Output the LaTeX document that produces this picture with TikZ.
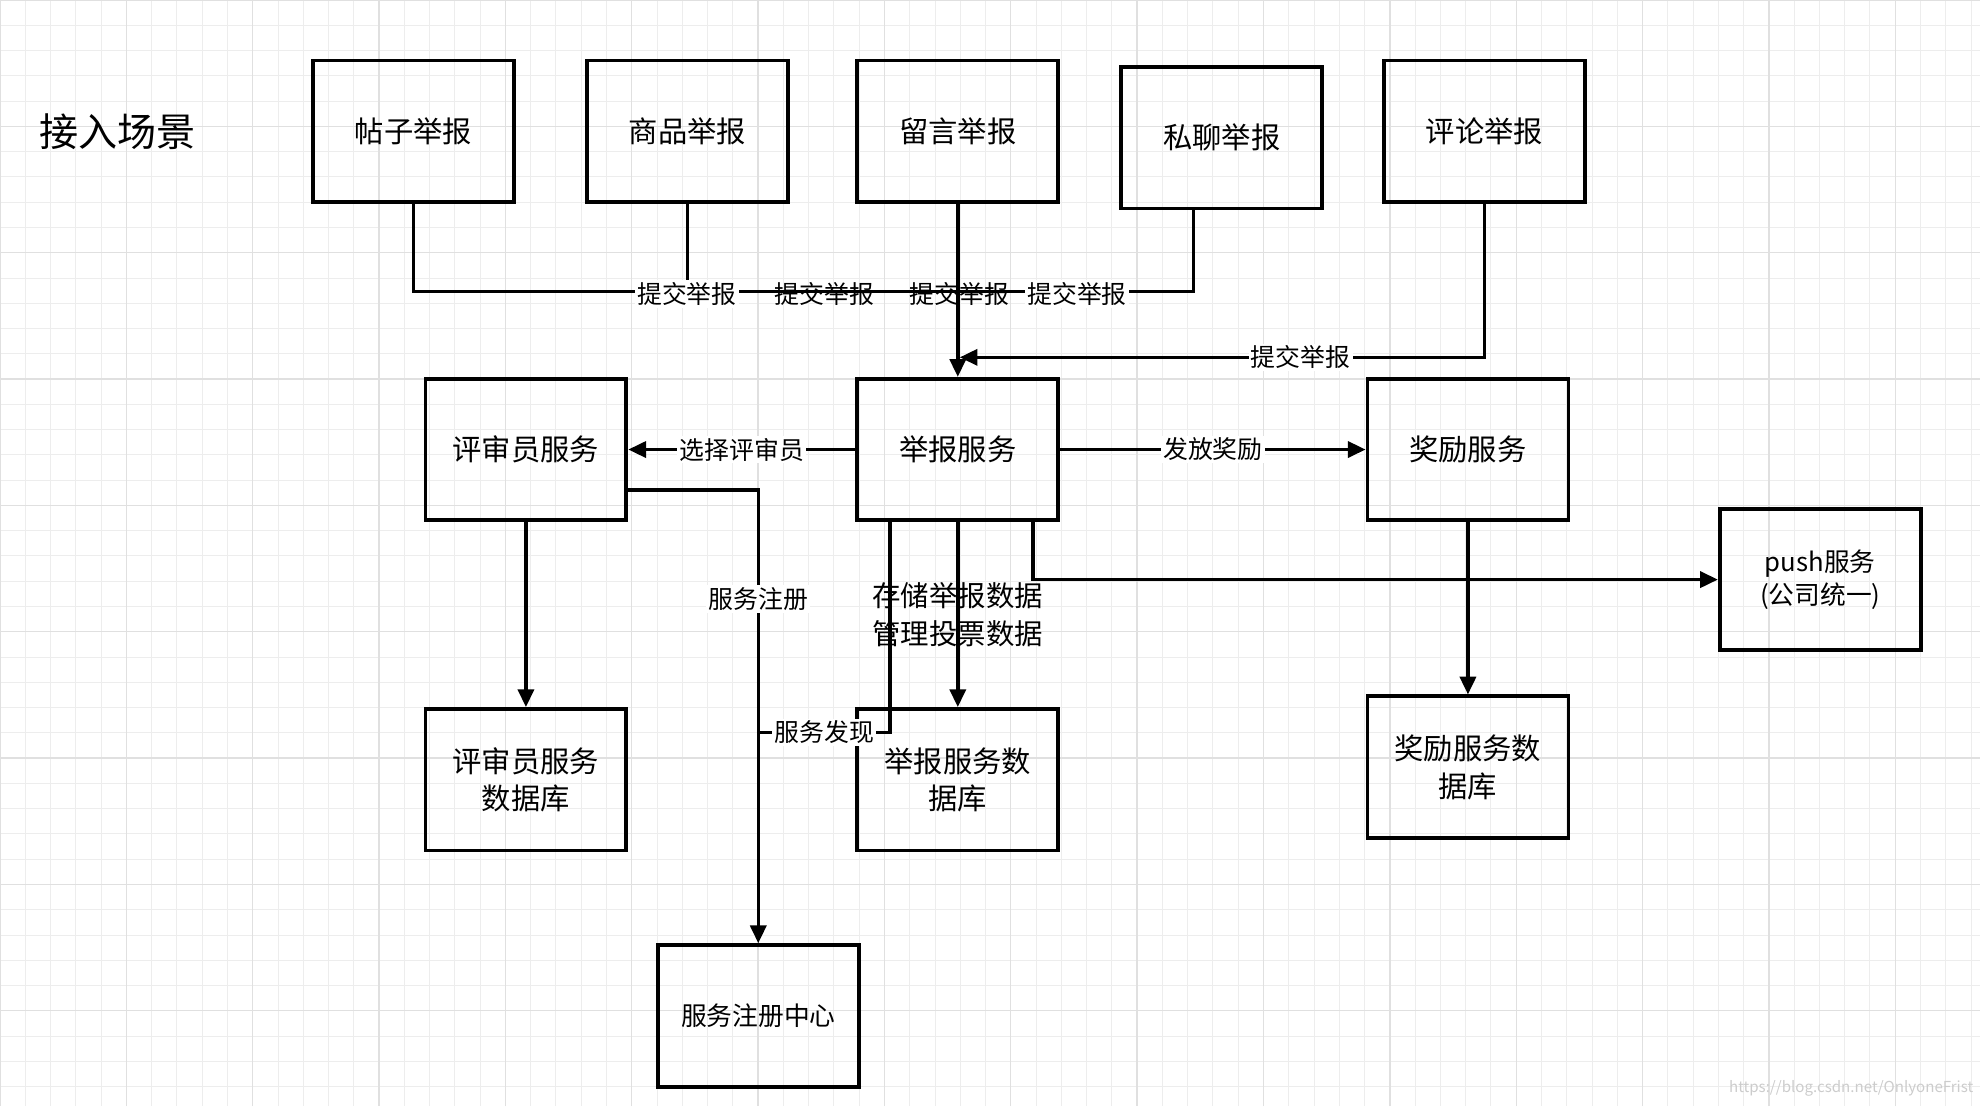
\documentclass[tikz,border=0pt]{standalone}
\usepackage{fontspec}
\setmainfont{Noto Sans CJK SC}
\usetikzlibrary{arrows.meta}
\begin{document}
\begin{tikzpicture}[x=0.01cm,y=-0.01cm,line width=0.8pt]
\tikzstyle{box}=[draw,minimum width=1.59cm,minimum height=1.12cm,align=center,font=\fontsize{6.6}{8.5}\selectfont,line width=0.85pt];
\tikzstyle{lbl}=[fill=white,inner sep=0.5pt,font=\fontsize{5.6}{7}\selectfont];
\tikzstyle{flow}=[-{Triangle[length=4pt,width=3.6pt]}];
\useasboundingbox (0,0) rectangle (1568,876);
\fill[white] (0,0) rectangle (1568,876);
\draw[line width=0.2pt,black!7,step=0.2cm] (0,0) grid (1568,876);
\draw[line width=0.3pt,black!12,step=1cm] (0,0) grid (1568,876);
\node [font=\fontsize{8.8}{10}\selectfont] (title) at (93,104) {接入场景};
\node [box] (tiezi) at (327.5,104) {帖子举报};
\node [box] (shangpin) at (544.5,104) {商品举报};
\node [box] (liuyan) at (758.5,104) {留言举报};
\node [box] (siliao) at (967.5,109) {私聊举报};
\node [box] (pinglun) at (1175.5,104) {评论举报};
\node [box] (pingshen) at (416.5,356) {评审员服务};
\node [box] (jubao) at (758.5,356) {举报服务};
\node [box] (jiangli) at (1162.5,356) {奖励服务};
\node [box,font=\fontsize{5.8}{7.5}\selectfont] (push) at (1441.5,459) {push服务\\(公司统一)};
\node [box] (pingshendb) at (416.5,617.5) {评审员服务\\数据库};
\node [box] (jubaodb) at (758.5,617.5) {举报服务数\\据库};
\node [box] (jianglidb) at (1162.5,607.5) {奖励服务数\\据库};
\node [box,font=\fontsize{5.8}{7.5}\selectfont] (zhuce) at (600.5,804.5) {服务注册中心};
\node [text=black!20,font=\fontsize{3.4}{4}\selectfont] (mark) at (1466,862) {https://blog.csdn.net/OnlyoneFrist};
% submissions
\draw (tiezi.south) |- (758.5,231);
\draw (shangpin.south) -- (544.5,231);
\draw (siliao.south -| 945,0) |- (758.5,231);
\draw [flow] (liuyan.south) -- (jubao.north);
\node [lbl] (s1) at (544,233) {提交举报};
\node [lbl,fill=none] (s2) at (653,233) {提交举报};
\node [lbl,fill=none] (s3) at (760,233) {提交举报};
\node [lbl] (s4) at (853,233) {提交举报};
\coordinate (c1) at (1175.5,283);
\draw [flow] (pinglun.south) -- (c1) -- (760,283) node [lbl,pos=0.35] {提交举报};
% services
\draw [flow] (jubao.west) -- (pingshen.east) node [lbl,midway] {选择评审员};
\draw [flow] (jubao.east) -- (jiangli.west) node [lbl,midway] {发放奖励};
\draw [flow] (jubao.south) -- (jubaodb.north) node [lbl,fill=none,midway,align=center,font=\fontsize{6.4}{8.5}\selectfont] {存储举报数据\\管理投票数据};
\draw [flow] (818,412) |- (push.west);
\draw [flow] (pingshen.south) -- (pingshendb.north);
\draw [flow] (jiangli.south) -- (jianglidb.north);
\draw [flow] (496,388) -| (zhuce.north) node [lbl,pos=0.62] {服务注册};
\draw (705,412) |- (600.5,580) node [lbl,pos=0.75] {服务发现};
\end{tikzpicture}
\end{document}
